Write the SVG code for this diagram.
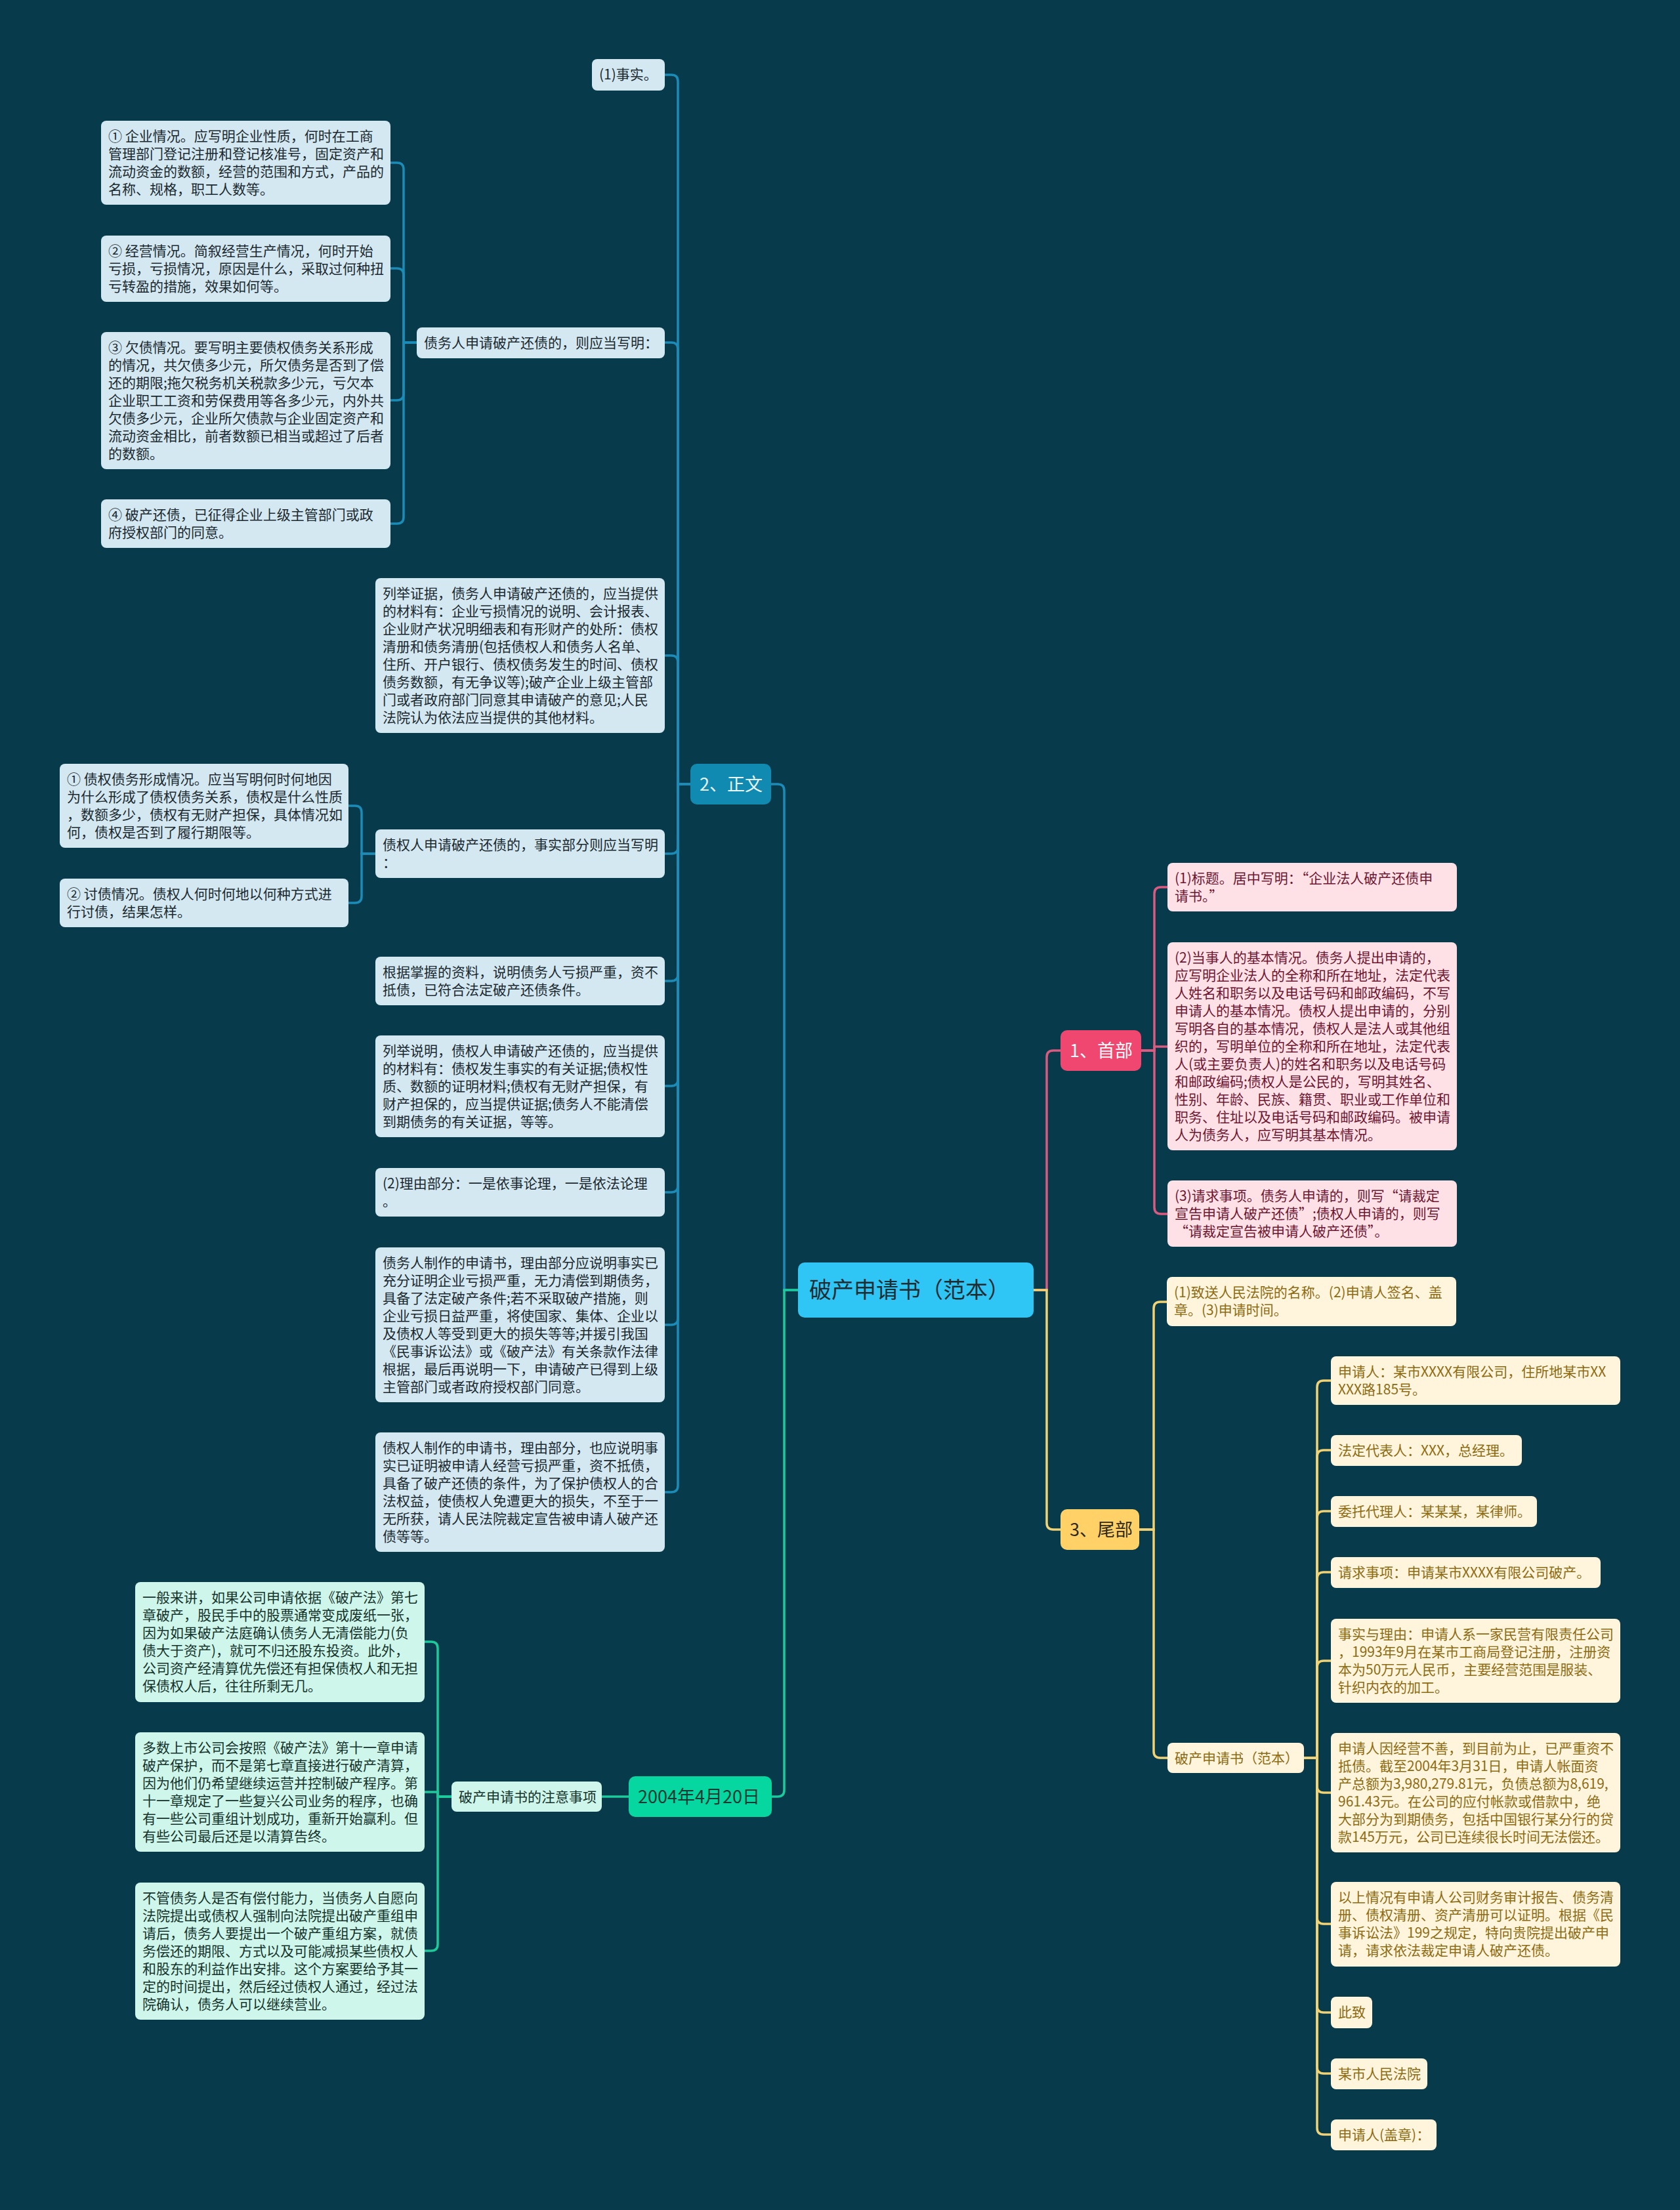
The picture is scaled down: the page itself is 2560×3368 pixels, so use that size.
<svg xmlns="http://www.w3.org/2000/svg" width="2560" height="3368" viewBox="0 0 2560 3368">
<style>
text{font-family:"Noto Sans CJK SC","Noto Sans CJK TC",sans-serif;font-size:21px}
.c{fill:none;stroke-width:3.5;stroke-linecap:round}
.cb{stroke:#1b8cb8}.cp{stroke:#dc5a80}.cy{stroke:#f1d274}.cg{stroke:#1ccb9c}
.lb rect{fill:#d3e8f0}.lb text{fill:#1b2930}
.lp rect{fill:#fde1e7}.lp text{fill:#6e1631}
.ly rect{fill:#fff5dc}.ly text{fill:#8d6b12}
.lg rect{fill:#cff6ea}.lg text{fill:#14332c}
.l1 text{font-size:27px}
</style>
<rect width="2560" height="3368" fill="#073b4c"/>
<g id="connectors">
<path class="c cb" d="M1216 1966 H1195 V1205 Q1195 1195 1185 1195 H1175"/>
<path class="c cg" d="M1216 1966 H1195 V2728 Q1195 2738 1185 2738 H1176"/>
<path class="c cp" d="M1575 1966 H1595 V1611 Q1595 1601 1605 1601 H1616"/>
<path class="c cy" d="M1575 1966 H1595 V2321 Q1595 2331 1605 2331 H1616"/>
<path class="c cp" d="M1739 1601 H1759 V1362 Q1759 1352 1769 1352 H1779"/>
<path class="c cp" d="M1739 1601 H1759 V1595 H1779"/>
<path class="c cp" d="M1739 1601 H1759 V1840 Q1759 1850 1769 1850 H1779"/>
<path class="c cy" d="M1736 2331 H1758 V1994 Q1758 1984 1768 1984 H1778"/>
<path class="c cy" d="M1736 2331 H1758 V2669 Q1758 2679 1768 2679 H1779"/>
<path class="c cy" d="M1987 2679 H2007 V2114 Q2007 2104 2017 2104 H2028"/>
<path class="c cy" d="M1987 2679 H2007 V2220 Q2007 2210 2017 2210 H2028"/>
<path class="c cy" d="M1987 2679 H2007 V2313 Q2007 2303 2017 2303 H2028"/>
<path class="c cy" d="M1987 2679 H2007 V2406 Q2007 2396 2017 2396 H2028"/>
<path class="c cy" d="M1987 2679 H2007 V2541 Q2007 2531 2017 2531 H2028"/>
<path class="c cy" d="M1987 2679 H2007 V2722 Q2007 2732 2017 2732 H2028"/>
<path class="c cy" d="M1987 2679 H2007 V2922 Q2007 2932 2017 2932 H2028"/>
<path class="c cy" d="M1987 2679 H2007 V3057 Q2007 3067 2017 3067 H2028"/>
<path class="c cy" d="M1987 2679 H2007 V3150 Q2007 3160 2017 3160 H2028"/>
<path class="c cy" d="M1987 2679 H2007 V3243 Q2007 3253 2017 3253 H2028"/>
<path class="c cb" d="M1052 1195 H1033 V124 Q1033 114 1023 114 H1013"/>
<path class="c cb" d="M1052 1195 H1033 V532 Q1033 522 1023 522 H1013"/>
<path class="c cb" d="M1052 1195 H1033 V1009 Q1033 999 1023 999 H1013"/>
<path class="c cb" d="M1052 1195 H1033 V1291 Q1033 1301 1023 1301 H1013"/>
<path class="c cb" d="M1052 1195 H1033 V1485 Q1033 1495 1023 1495 H1013"/>
<path class="c cb" d="M1052 1195 H1033 V1645 Q1033 1655 1023 1655 H1013"/>
<path class="c cb" d="M1052 1195 H1033 V1807 Q1033 1817 1023 1817 H1013"/>
<path class="c cb" d="M1052 1195 H1033 V2009 Q1033 2019 1023 2019 H1013"/>
<path class="c cb" d="M1052 1195 H1033 V2264 Q1033 2274 1023 2274 H1013"/>
<path class="c cb" d="M635 522 H615 V258 Q615 248 605 248 H595"/>
<path class="c cb" d="M635 522 H615 V419 Q615 409 605 409 H595"/>
<path class="c cb" d="M635 522 H615 V600 Q615 610 605 610 H595"/>
<path class="c cb" d="M635 522 H615 V788 Q615 798 605 798 H595"/>
<path class="c cb" d="M572 1301 H551 V1238 Q551 1228 541 1228 H531"/>
<path class="c cb" d="M572 1301 H551 V1366 Q551 1376 541 1376 H531"/>
<path class="c cg" d="M958 2738 H917"/>
<path class="c cg" d="M688 2738 H667 V2512 Q667 2502 657 2502 H647"/>
<path class="c cg" d="M688 2738 H667 V2731 H647"/>
<path class="c cg" d="M688 2738 H667 V2963 Q667 2973 657 2973 H647"/>
</g>
<g id="root"><rect x="1216" y="1924" width="359" height="84" rx="10" fill="#2fc5f4"/><text x="1233" y="1978" style="font-size:34px" fill="#1f2d33">破产申请书（范本）</text></g>
<g id="n-shoubu" class="l1"><rect x="1616" y="1570" width="123" height="62" rx="10" fill="#ef476f"/><text x="1630" y="1611" fill="#ffffff">1、首部</text></g>
<g id="n-weibu" class="l1"><rect x="1616" y="2300" width="120" height="62" rx="10" fill="#ffd166"/><text x="1630" y="2341" fill="#2e2a1e">3、尾部</text></g>
<g id="n-zhengwen" class="l1"><rect x="1052" y="1164" width="123" height="62" rx="10" fill="#118ab2"/><text x="1066" y="1205" fill="#e8f6fb">2、正文</text></g>
<g id="n-date" class="l1"><rect x="958" y="2707" width="218" height="62" rx="10" fill="#06d6a0"/><text x="972" y="2748" fill="#173b33">2004年4月20日</text></g>

<g id="p1" class="lp"><rect x="1779" y="1315" width="441" height="74" rx="8"/><text x="1790" y="1346"><tspan x="1790">(1)标题。居中写明：“企业法人破产还债申</tspan><tspan x="1790" dy="27">请书。”</tspan></text></g>
<g id="p2" class="lp"><rect x="1779" y="1436" width="441" height="317" rx="8"/><text x="1790" y="1467"><tspan x="1790">(2)当事人的基本情况。债务人提出申请的，</tspan><tspan x="1790" dy="27">应写明企业法人的全称和所在地址，法定代表</tspan><tspan x="1790" dy="27">人姓名和职务以及电话号码和邮政编码，不写</tspan><tspan x="1790" dy="27">申请人的基本情况。债权人提出申请的，分别</tspan><tspan x="1790" dy="27">写明各自的基本情况，债权人是法人或其他组</tspan><tspan x="1790" dy="27">织的，写明单位的全称和所在地址，法定代表</tspan><tspan x="1790" dy="27">人(或主要负责人)的姓名和职务以及电话号码</tspan><tspan x="1790" dy="27">和邮政编码;债权人是公民的，写明其姓名、</tspan><tspan x="1790" dy="27">性别、年龄、民族、籍贯、职业或工作单位和</tspan><tspan x="1790" dy="27">职务、住址以及电话号码和邮政编码。被申请</tspan><tspan x="1790" dy="27">人为债务人，应写明其基本情况。</tspan></text></g>
<g id="p3" class="lp"><rect x="1779" y="1799" width="441" height="101" rx="8"/><text x="1790" y="1830"><tspan x="1790">(3)请求事项。债务人申请的，则写“请裁定</tspan><tspan x="1790" dy="27">宣告申请人破产还债”;债权人申请的，则写</tspan><tspan x="1790" dy="27">“请裁定宣告被申请人破产还债”。</tspan></text></g>

<g id="y1" class="ly"><rect x="1778" y="1946" width="441" height="75" rx="8"/><text x="1789" y="1977"><tspan x="1789">(1)致送人民法院的名称。(2)申请人签名、盖</tspan><tspan x="1789" dy="27">章。(3)申请时间。</tspan></text></g>
<g id="y2" class="ly"><rect x="1779" y="2656" width="208" height="46" rx="8"/><text x="1790" y="2687">破产申请书（范本）</text></g>
<g id="ya" class="ly"><rect x="2028" y="2067" width="441" height="74" rx="8"/><text x="2039" y="2098"><tspan x="2039">申请人：某市XXXX有限公司，住所地某市XX</tspan><tspan x="2039" dy="27">XXX路185号。</tspan></text></g>
<g id="yb" class="ly"><rect x="2028" y="2187" width="291" height="47" rx="8"/><text x="2039" y="2218">法定代表人：XXX，总经理。</text></g>
<g id="yc" class="ly"><rect x="2028" y="2280" width="314" height="47" rx="8"/><text x="2039" y="2311">委托代理人：某某某，某律师。</text></g>
<g id="yd" class="ly"><rect x="2028" y="2373" width="411" height="47" rx="8"/><text x="2039" y="2404">请求事项：申请某市XXXX有限公司破产。</text></g>
<g id="ye" class="ly"><rect x="2028" y="2467" width="441" height="128" rx="8"/><text x="2039" y="2498"><tspan x="2039">事实与理由：申请人系一家民营有限责任公司</tspan><tspan x="2039" dy="27">，1993年9月在某市工商局登记注册，注册资</tspan><tspan x="2039" dy="27">本为50万元人民币，主要经营范围是服装、</tspan><tspan x="2039" dy="27">针织内衣的加工。</tspan></text></g>
<g id="yf" class="ly"><rect x="2028" y="2641" width="441" height="182" rx="8"/><text x="2039" y="2672"><tspan x="2039">申请人因经营不善，到目前为止，已严重资不</tspan><tspan x="2039" dy="27">抵债。截至2004年3月31日，申请人帐面资</tspan><tspan x="2039" dy="27">产总额为3,980,279.81元，负债总额为8,619,</tspan><tspan x="2039" dy="27">961.43元。在公司的应付帐款或借款中，绝</tspan><tspan x="2039" dy="27">大部分为到期债务，包括中国银行某分行的贷</tspan><tspan x="2039" dy="27">款145万元，公司已连续很长时间无法偿还。</tspan></text></g>
<g id="yg" class="ly"><rect x="2028" y="2868" width="441" height="129" rx="8"/><text x="2039" y="2899"><tspan x="2039">以上情况有申请人公司财务审计报告、债务清</tspan><tspan x="2039" dy="27">册、债权清册、资产清册可以证明。根据《民</tspan><tspan x="2039" dy="27">事诉讼法》199之规定，特向贵院提出破产申</tspan><tspan x="2039" dy="27">请，请求依法裁定申请人破产还债。</tspan></text></g>
<g id="yh" class="ly"><rect x="2028" y="3043" width="63" height="48" rx="8"/><text x="2039" y="3074">此致</text></g>
<g id="yi" class="ly"><rect x="2028" y="3137" width="147" height="47" rx="8"/><text x="2039" y="3168">某市人民法院</text></g>
<g id="yj" class="ly"><rect x="2028" y="3230" width="161" height="47" rx="8"/><text x="2039" y="3261">申请人(盖章)：</text></g>

<g id="b1" class="lb"><rect x="902" y="90" width="111" height="48" rx="8"/><text x="913" y="121">(1)事实。</text></g>
<g id="b2" class="lb"><rect x="635" y="499" width="378" height="47" rx="8"/><text x="646" y="530">债务人申请破产还债的，则应当写明：</text></g>
<g id="b2a" class="lb"><rect x="154" y="184" width="441" height="128" rx="8"/><text x="165" y="215"><tspan x="165">① 企业情况。应写明企业性质，何时在工商</tspan><tspan x="165" dy="27">管理部门登记注册和登记核准号，固定资产和</tspan><tspan x="165" dy="27">流动资金的数额，经营的范围和方式，产品的</tspan><tspan x="165" dy="27">名称、规格，职工人数等。</tspan></text></g>
<g id="b2b" class="lb"><rect x="154" y="359" width="441" height="101" rx="8"/><text x="165" y="390"><tspan x="165">② 经营情况。简叙经营生产情况，何时开始</tspan><tspan x="165" dy="27">亏损，亏损情况，原因是什么，采取过何种扭</tspan><tspan x="165" dy="27">亏转盈的措施，效果如何等。</tspan></text></g>
<g id="b2c" class="lb"><rect x="154" y="506" width="441" height="209" rx="8"/><text x="165" y="537"><tspan x="165">③ 欠债情况。要写明主要债权债务关系形成</tspan><tspan x="165" dy="27">的情况，共欠债多少元，所欠债务是否到了偿</tspan><tspan x="165" dy="27">还的期限;拖欠税务机关税款多少元，亏欠本</tspan><tspan x="165" dy="27">企业职工工资和劳保费用等各多少元，内外共</tspan><tspan x="165" dy="27">欠债多少元，企业所欠债款与企业固定资产和</tspan><tspan x="165" dy="27">流动资金相比，前者数额已相当或超过了后者</tspan><tspan x="165" dy="27">的数额。</tspan></text></g>
<g id="b2d" class="lb"><rect x="154" y="761" width="441" height="74" rx="8"/><text x="165" y="792"><tspan x="165">④ 破产还债，已征得企业上级主管部门或政</tspan><tspan x="165" dy="27">府授权部门的同意。</tspan></text></g>
<g id="b3" class="lb"><rect x="572" y="881" width="441" height="236" rx="8"/><text x="583" y="912"><tspan x="583">列举证据，债务人申请破产还债的，应当提供</tspan><tspan x="583" dy="27">的材料有：企业亏损情况的说明、会计报表、</tspan><tspan x="583" dy="27">企业财产状况明细表和有形财产的处所：债权</tspan><tspan x="583" dy="27">清册和债务清册(包括债权人和债务人名单、</tspan><tspan x="583" dy="27">住所、开户银行、债权债务发生的时间、债权</tspan><tspan x="583" dy="27">债务数额，有无争议等);破产企业上级主管部</tspan><tspan x="583" dy="27">门或者政府部门同意其申请破产的意见;人民</tspan><tspan x="583" dy="27">法院认为依法应当提供的其他材料。</tspan></text></g>
<g id="b4" class="lb"><rect x="572" y="1264" width="441" height="74" rx="8"/><text x="583" y="1295"><tspan x="583">债权人申请破产还债的，事实部分则应当写明</tspan><tspan x="583" dy="27">：</tspan></text></g>
<g id="b4a" class="lb"><rect x="91" y="1164" width="440" height="128" rx="8"/><text x="102" y="1195"><tspan x="102">① 债权债务形成情况。应当写明何时何地因</tspan><tspan x="102" dy="27">为什么形成了债权债务关系，债权是什么性质</tspan><tspan x="102" dy="27">，数额多少，债权有无财产担保，具体情况如</tspan><tspan x="102" dy="27">何，债权是否到了履行期限等。</tspan></text></g>
<g id="b4b" class="lb"><rect x="91" y="1339" width="440" height="74" rx="8"/><text x="102" y="1370"><tspan x="102">② 讨债情况。债权人何时何地以何种方式进</tspan><tspan x="102" dy="27">行讨债，结果怎样。</tspan></text></g>
<g id="b5" class="lb"><rect x="572" y="1458" width="441" height="74" rx="8"/><text x="583" y="1489"><tspan x="583">根据掌握的资料，说明债务人亏损严重，资不</tspan><tspan x="583" dy="27">抵债，已符合法定破产还债条件。</tspan></text></g>
<g id="b6" class="lb"><rect x="572" y="1578" width="441" height="155" rx="8"/><text x="583" y="1609"><tspan x="583">列举说明，债权人申请破产还债的，应当提供</tspan><tspan x="583" dy="27">的材料有：债权发生事实的有关证据;债权性</tspan><tspan x="583" dy="27">质、数额的证明材料;债权有无财产担保，有</tspan><tspan x="583" dy="27">财产担保的，应当提供证据;债务人不能清偿</tspan><tspan x="583" dy="27">到期债务的有关证据，等等。</tspan></text></g>
<g id="b7" class="lb"><rect x="572" y="1780" width="441" height="74" rx="8"/><text x="583" y="1811"><tspan x="583">(2)理由部分：一是依事论理，一是依法论理</tspan><tspan x="583" dy="27">。</tspan></text></g>
<g id="b8" class="lb"><rect x="572" y="1901" width="441" height="236" rx="8"/><text x="583" y="1932"><tspan x="583">债务人制作的申请书，理由部分应说明事实已</tspan><tspan x="583" dy="27">充分证明企业亏损严重，无力清偿到期债务，</tspan><tspan x="583" dy="27">具备了法定破产条件;若不采取破产措施，则</tspan><tspan x="583" dy="27">企业亏损日益严重，将使国家、集体、企业以</tspan><tspan x="583" dy="27">及债权人等受到更大的损失等等;并援引我国</tspan><tspan x="583" dy="27">《民事诉讼法》或《破产法》有关条款作法律</tspan><tspan x="583" dy="27">根据，最后再说明一下，申请破产已得到上级</tspan><tspan x="583" dy="27">主管部门或者政府授权部门同意。</tspan></text></g>
<g id="b9" class="lb"><rect x="572" y="2183" width="441" height="182" rx="8"/><text x="583" y="2214"><tspan x="583">债权人制作的申请书，理由部分，也应说明事</tspan><tspan x="583" dy="27">实已证明被申请人经营亏损严重，资不抵债，</tspan><tspan x="583" dy="27">具备了破产还债的条件，为了保护债权人的合</tspan><tspan x="583" dy="27">法权益，使债权人免遭更大的损失，不至于一</tspan><tspan x="583" dy="27">无所获，请人民法院裁定宣告被申请人破产还</tspan><tspan x="583" dy="27">债等等。</tspan></text></g>

<g id="g1" class="lg"><rect x="688" y="2715" width="229" height="46" rx="8"/><text x="699" y="2746">破产申请书的注意事项</text></g>
<g id="g1a" class="lg"><rect x="206" y="2411" width="441" height="183" rx="8"/><text x="217" y="2442"><tspan x="217">一般来讲，如果公司申请依据《破产法》第七</tspan><tspan x="217" dy="27">章破产，股民手中的股票通常变成废纸一张，</tspan><tspan x="217" dy="27">因为如果破产法庭确认债务人无清偿能力(负</tspan><tspan x="217" dy="27">债大于资产)，就可不归还股东投资。此外，</tspan><tspan x="217" dy="27">公司资产经清算优先偿还有担保债权人和无担</tspan><tspan x="217" dy="27">保债权人后，往往所剩无几。</tspan></text></g>
<g id="g1b" class="lg"><rect x="206" y="2640" width="441" height="182" rx="8"/><text x="217" y="2671"><tspan x="217">多数上市公司会按照《破产法》第十一章申请</tspan><tspan x="217" dy="27">破产保护，而不是第七章直接进行破产清算，</tspan><tspan x="217" dy="27">因为他们仍希望继续运营并控制破产程序。第</tspan><tspan x="217" dy="27">十一章规定了一些复兴公司业务的程序，也确</tspan><tspan x="217" dy="27">有一些公司重组计划成功，重新开始赢利。但</tspan><tspan x="217" dy="27">有些公司最后还是以清算告终。</tspan></text></g>
<g id="g1c" class="lg"><rect x="206" y="2869" width="441" height="209" rx="8"/><text x="217" y="2900"><tspan x="217">不管债务人是否有偿付能力，当债务人自愿向</tspan><tspan x="217" dy="27">法院提出或债权人强制向法院提出破产重组申</tspan><tspan x="217" dy="27">请后，债务人要提出一个破产重组方案，就债</tspan><tspan x="217" dy="27">务偿还的期限、方式以及可能减损某些债权人</tspan><tspan x="217" dy="27">和股东的利益作出安排。这个方案要给予其一</tspan><tspan x="217" dy="27">定的时间提出，然后经过债权人通过，经过法</tspan><tspan x="217" dy="27">院确认，债务人可以继续营业。</tspan></text></g>
</svg>
